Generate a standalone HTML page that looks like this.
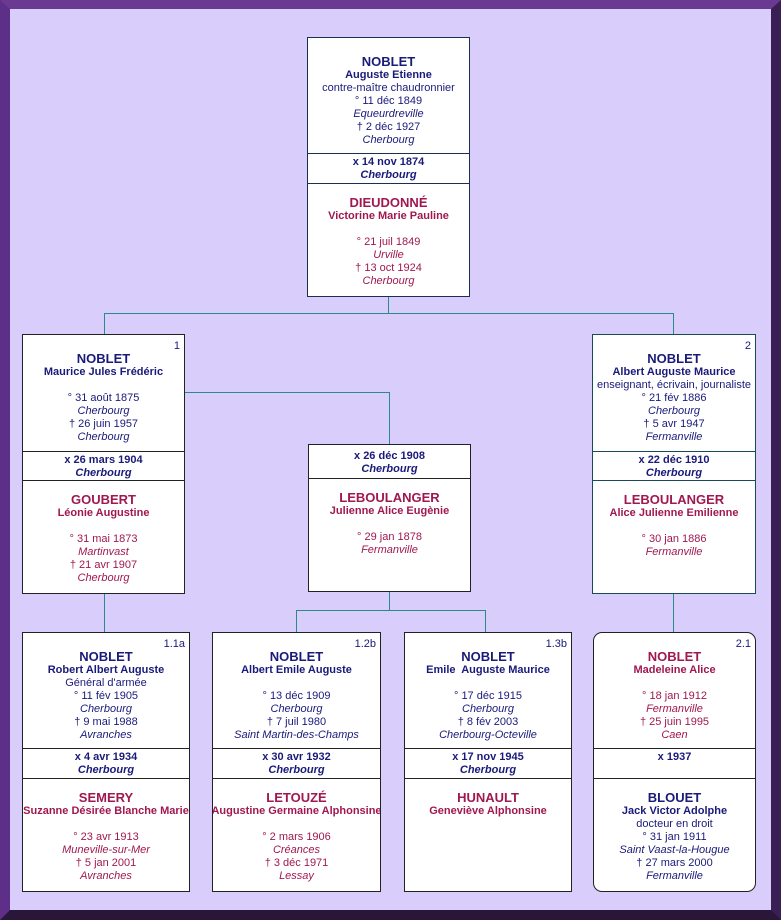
<!DOCTYPE html>
<html><head><meta charset="utf-8"><style>
*{margin:0;padding:0;box-sizing:border-box}
body{width:781px;height:920px;overflow:hidden;position:relative;font-family:"Liberation Sans",Arial,sans-serif;font-size:11px;background:#3a1f55}
#bg{position:absolute;left:0;top:0;width:781px;height:920px;border-style:solid;border-width:9px 10px 10px 10px;border-color:#6a3a92 #3a1f55 #2a1638 #5e2f88;background:#d9cefb}
.box{position:absolute;background:#fff;border:1px solid #222;overflow:hidden}
.sec{position:absolute;left:0;right:0;overflow:hidden}
.bt{border-top:1px solid #222}
.l{display:flex;justify-content:center;height:13px;line-height:13px;white-space:nowrap;overflow:hidden}
.l span{flex:none}
.s{font-size:13px;font-weight:bold;height:15px;line-height:15px}
.b{font-weight:bold}
.i{font-style:italic}
.m{color:#1a1a7a}
.f{color:#a01850}
.n{position:absolute;right:4px;top:5px;font-size:11px;color:#1a1a7a}
.h{position:absolute;background:#2a8a8a;height:1px}
.v{position:absolute;background:#2a8a8a;width:1px}
</style></head><body>
<div id="bg"></div>

<div class="v" style="left:388px;top:296px;height:17px"></div>
<div class="h" style="left:104px;top:313px;width:570px"></div>
<div class="v" style="left:104px;top:313px;height:21px"></div>
<div class="v" style="left:673px;top:313px;height:21px"></div>
<div class="h" style="left:184px;top:392px;width:205px"></div>
<div class="v" style="left:389px;top:392px;height:52px"></div>
<div class="v" style="left:389px;top:591px;height:19px"></div>
<div class="h" style="left:296px;top:610px;width:190px"></div>
<div class="v" style="left:296px;top:610px;height:22px"></div>
<div class="v" style="left:485px;top:610px;height:22px"></div>
<div class="v" style="left:104px;top:593px;height:39px"></div>
<div class="v" style="left:673px;top:593px;height:39px"></div>

<div class="box" style="left:307px;top:37px;width:163px;height:260px;border-color:#1a3050">
 <div class="sec m" style="top:0;height:115px;padding-top:16px">
  <div class="l s"><span>NOBLET</span></div>
  <div class="l b"><span>Auguste Etienne</span></div>
  <div class="l"><span>contre-maître chaudronnier</span></div>
  <div class="l"><span>° 11 déc 1849</span></div>
  <div class="l i"><span>Equeurdreville</span></div>
  <div class="l"><span>† 2 déc 1927</span></div>
  <div class="l i"><span>Cherbourg</span></div>
 </div>
 <div class="sec m bt" style="top:115px;height:30px;padding-top:2px;border-color:#1a3050">
  <div class="l b"><span>x 14 nov 1874</span></div>
  <div class="l b i"><span>Cherbourg</span></div>
 </div>
 <div class="sec f bt" style="top:145px;height:114px;padding-top:11px;border-color:#1a3050">
  <div class="l s"><span>DIEUDONNÉ</span></div>
  <div class="l b"><span>Victorine Marie Pauline</span></div>
  <div class="l"></div>
  <div class="l"><span>° 21 juil 1849</span></div>
  <div class="l i"><span>Urville</span></div>
  <div class="l"><span>† 13 oct 1924</span></div>
  <div class="l i"><span>Cherbourg</span></div>
 </div>
</div>

<div class="box" style="left:22px;top:334px;width:163px;height:260px">
 <div class="n">1</div>
 <div class="sec m" style="top:0;height:116px;padding-top:16px">
  <div class="l s"><span>NOBLET</span></div>
  <div class="l b"><span>Maurice Jules Frédéric</span></div>
  <div class="l"></div>
  <div class="l"><span>° 31 août 1875</span></div>
  <div class="l i"><span>Cherbourg</span></div>
  <div class="l"><span>† 26 juin 1957</span></div>
  <div class="l i"><span>Cherbourg</span></div>
 </div>
 <div class="sec m bt" style="top:116px;height:29px;padding-top:2px">
  <div class="l b"><span>x 26 mars 1904</span></div>
  <div class="l b i"><span>Cherbourg</span></div>
 </div>
 <div class="sec f bt" style="top:145px;height:114px;padding-top:11px">
  <div class="l s"><span>GOUBERT</span></div>
  <div class="l b"><span>Léonie Augustine</span></div>
  <div class="l"></div>
  <div class="l"><span>° 31 mai 1873</span></div>
  <div class="l i"><span>Martinvast</span></div>
  <div class="l"><span>† 21 avr 1907</span></div>
  <div class="l i"><span>Cherbourg</span></div>
 </div>
</div>

<div class="box" style="left:308px;top:444px;width:163px;height:148px">
 <div class="sec m" style="top:0;height:33px;padding-top:5px">
  <div class="l b"><span>x 26 déc 1908</span></div>
  <div class="l b i"><span>Cherbourg</span></div>
 </div>
 <div class="sec f bt" style="top:33px;height:114px;padding-top:11px">
  <div class="l s"><span>LEBOULANGER</span></div>
  <div class="l b"><span>Julienne Alice Eugènie</span></div>
  <div class="l"></div>
  <div class="l"><span>° 29 jan 1878</span></div>
  <div class="l i"><span>Fermanville</span></div>
 </div>
</div>

<div class="box" style="left:592px;top:334px;width:164px;height:260px;border-color:#1a4a5a">
 <div class="n">2</div>
 <div class="sec m" style="top:0;height:116px;padding-top:16px">
  <div class="l s"><span>NOBLET</span></div>
  <div class="l b"><span>Albert Auguste Maurice</span></div>
  <div class="l"><span>enseignant, écrivain, journaliste</span></div>
  <div class="l"><span>° 21 fév 1886</span></div>
  <div class="l i"><span>Cherbourg</span></div>
  <div class="l"><span>† 5 avr 1947</span></div>
  <div class="l i"><span>Fermanville</span></div>
 </div>
 <div class="sec m bt" style="top:116px;height:29px;padding-top:2px;border-color:#1a4a5a">
  <div class="l b"><span>x 22 déc 1910</span></div>
  <div class="l b i"><span>Cherbourg</span></div>
 </div>
 <div class="sec f bt" style="top:145px;height:114px;padding-top:11px;border-color:#1a4a5a">
  <div class="l s"><span>LEBOULANGER</span></div>
  <div class="l b"><span>Alice Julienne Emilienne</span></div>
  <div class="l"></div>
  <div class="l"><span>° 30 jan 1886</span></div>
  <div class="l i"><span>Fermanville</span></div>
 </div>
</div>

<div class="box" style="left:22px;top:632px;width:168px;height:260px">
 <div class="n">1.1a</div>
 <div class="sec m" style="top:0;height:115px;padding-top:16px">
  <div class="l s"><span>NOBLET</span></div>
  <div class="l b"><span>Robert Albert Auguste</span></div>
  <div class="l"><span>Général d'armée</span></div>
  <div class="l"><span>° 11 fév 1905</span></div>
  <div class="l i"><span>Cherbourg</span></div>
  <div class="l"><span>† 9 mai 1988</span></div>
  <div class="l i"><span>Avranches</span></div>
 </div>
 <div class="sec m bt" style="top:115px;height:30px;padding-top:2px">
  <div class="l b"><span>x 4 avr 1934</span></div>
  <div class="l b i"><span>Cherbourg</span></div>
 </div>
 <div class="sec f bt" style="top:145px;height:114px;padding-top:11px">
  <div class="l s"><span>SEMERY</span></div>
  <div class="l b"><span>Suzanne Désirée Blanche Marie</span></div>
  <div class="l"></div>
  <div class="l"><span>° 23 avr 1913</span></div>
  <div class="l i"><span>Muneville-sur-Mer</span></div>
  <div class="l"><span>† 5 jan 2001</span></div>
  <div class="l i"><span>Avranches</span></div>
 </div>
</div>

<div class="box" style="left:212px;top:632px;width:169px;height:260px">
 <div class="n">1.2b</div>
 <div class="sec m" style="top:0;height:115px;padding-top:16px">
  <div class="l s"><span>NOBLET</span></div>
  <div class="l b"><span>Albert Emile Auguste</span></div>
  <div class="l"></div>
  <div class="l"><span>° 13 déc 1909</span></div>
  <div class="l i"><span>Cherbourg</span></div>
  <div class="l"><span>† 7 juil 1980</span></div>
  <div class="l i"><span>Saint Martin-des-Champs</span></div>
 </div>
 <div class="sec m bt" style="top:115px;height:30px;padding-top:2px">
  <div class="l b"><span>x 30 avr 1932</span></div>
  <div class="l b i"><span>Cherbourg</span></div>
 </div>
 <div class="sec f bt" style="top:145px;height:114px;padding-top:11px">
  <div class="l s"><span>LETOUZÉ</span></div>
  <div class="l b"><span>Augustine Germaine Alphonsine</span></div>
  <div class="l"></div>
  <div class="l"><span>° 2 mars 1906</span></div>
  <div class="l i"><span>Créances</span></div>
  <div class="l"><span>† 3 déc 1971</span></div>
  <div class="l i"><span>Lessay</span></div>
 </div>
</div>

<div class="box" style="left:404px;top:632px;width:168px;height:260px">
 <div class="n">1.3b</div>
 <div class="sec m" style="top:0;height:115px;padding-top:16px">
  <div class="l s"><span>NOBLET</span></div>
  <div class="l b"><span>Emile&nbsp; Auguste Maurice</span></div>
  <div class="l"></div>
  <div class="l"><span>° 17 déc 1915</span></div>
  <div class="l i"><span>Cherbourg</span></div>
  <div class="l"><span>† 8 fév 2003</span></div>
  <div class="l i"><span>Cherbourg-Octeville</span></div>
 </div>
 <div class="sec m bt" style="top:115px;height:30px;padding-top:2px">
  <div class="l b"><span>x 17 nov 1945</span></div>
  <div class="l b i"><span>Cherbourg</span></div>
 </div>
 <div class="sec f bt" style="top:145px;height:114px;padding-top:11px">
  <div class="l s"><span>HUNAULT</span></div>
  <div class="l b"><span>Geneviève Alphonsine</span></div>
 </div>
</div>

<div class="box" style="left:593px;top:632px;width:163px;height:260px;border-radius:9px">
 <div class="n">2.1</div>
 <div class="sec f" style="top:0;height:115px;padding-top:16px">
  <div class="l s"><span>NOBLET</span></div>
  <div class="l b"><span>Madeleine Alice</span></div>
  <div class="l"></div>
  <div class="l"><span>° 18 jan 1912</span></div>
  <div class="l i"><span>Fermanville</span></div>
  <div class="l"><span>† 25 juin 1995</span></div>
  <div class="l i"><span>Caen</span></div>
 </div>
 <div class="sec m bt" style="top:115px;height:30px;padding-top:2px">
  <div class="l b"><span>x 1937</span></div>
 </div>
 <div class="sec m bt" style="top:145px;height:114px;padding-top:11px">
  <div class="l s"><span>BLOUET</span></div>
  <div class="l b"><span>Jack Victor Adolphe</span></div>
  <div class="l"><span>docteur en droit</span></div>
  <div class="l"><span>° 31 jan 1911</span></div>
  <div class="l i"><span>Saint Vaast-la-Hougue</span></div>
  <div class="l"><span>† 27 mars 2000</span></div>
  <div class="l i"><span>Fermanville</span></div>
 </div>
</div>
</body></html>
